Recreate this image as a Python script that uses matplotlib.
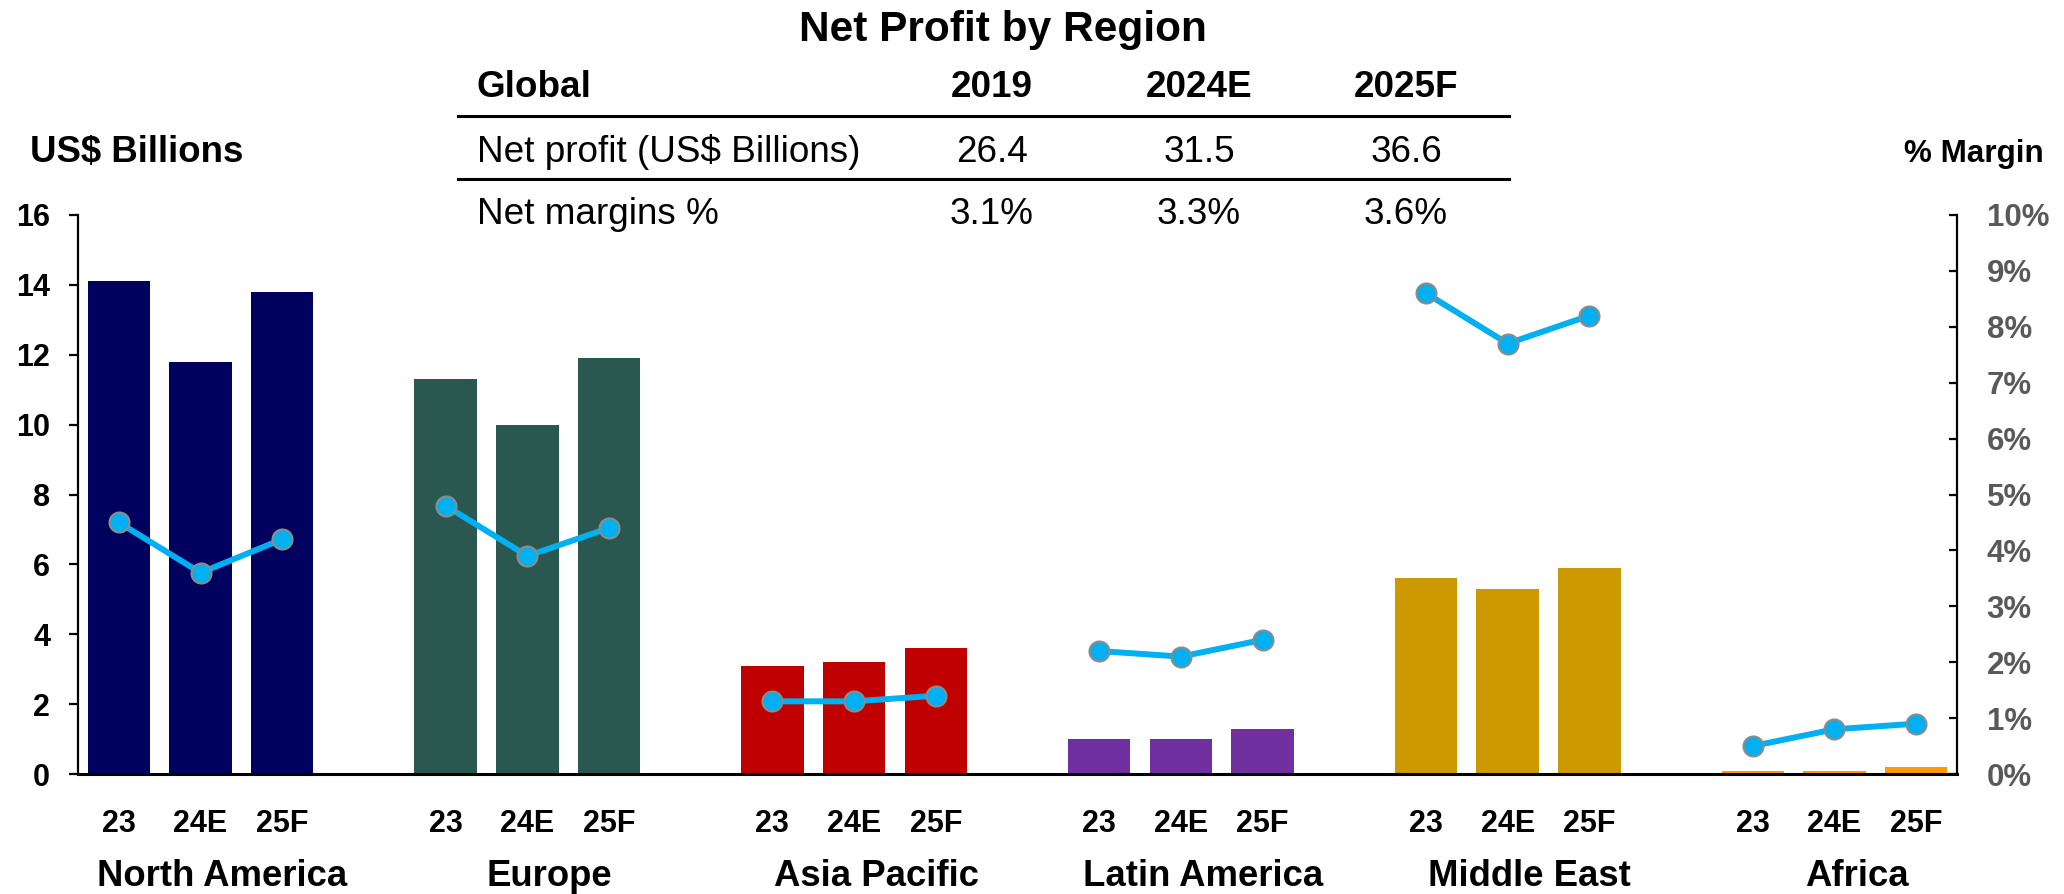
import matplotlib
matplotlib.use("Agg")
import matplotlib.pyplot as plt
from matplotlib.lines import Line2D
from matplotlib.transforms import blended_transform_factory
import numpy as np

plt.rcParams['font.family'] = ['Liberation Sans', 'DejaVu Sans']

# ---------------- data ----------------
regions = ["North America", "Europe", "Asia Pacific", "Latin America", "Middle East", "Africa"]
periods = ["23", "24E", "25F"]
net_profit = [
    [14.1, 11.8, 13.8],
    [11.3, 10.0, 11.9],
    [3.1, 3.2, 3.6],
    [1.0, 1.0, 1.3],
    [5.6, 5.3, 5.9],
    [0.1, 0.1, 0.2],
]
net_margin = [
    [4.5, 3.6, 4.2],
    [4.8, 3.9, 4.4],
    [1.3, 1.3, 1.4],
    [2.2, 2.1, 2.4],
    [8.6, 7.7, 8.2],
    [0.5, 0.8, 0.9],
]
region_colors = ["#00005E", "#2A5850", "#C00000", "#7030A0", "#CC9900", "#FF9900"]

table_title = "Net Profit by Region"
table_cols = ["Global", "2019", "2024E", "2025F"]
table_row_labels = ["Net profit (US$ Billions)", "Net margins %"]
table_profit = ["26.4", "31.5", "36.6"]
table_margin = ["3.1%", "3.3%", "3.6%"]

left_ticks = [0, 2, 4, 6, 8, 10, 12, 14, 16]
right_ticks = [0, 1, 2, 3, 4, 5, 6, 7, 8, 9, 10]

# ---------------- figure ----------------
W, H = 2064, 894
fig = plt.figure(figsize=(W / 100, H / 100), dpi=100)

def fx(px):
    return px / W

def fy(py):
    return 1 - py / H

ax = fig.add_axes([fx(78), fy(774), fx(1957) - fx(78), fy(215) - fy(774)])
ax2 = ax.twinx()

slot = 4  # 3 bars + 1 gap per region
bar_w = 0.765
line_color = "#00B0F0"

for g, reg in enumerate(regions):
    xs = [g * slot + j for j in range(len(periods))]
    ax.bar(xs, net_profit[g], width=bar_w, color=region_colors[g], zorder=2)
    ax2.plot(xs, net_margin[g], color=line_color, lw=4.3, marker="o", ms=14.4,
             markerfacecolor=line_color, markeredgecolor="#8C8C8C", markeredgewidth=1.5,
             zorder=5, solid_capstyle="round")

ax.set_xlim(-0.5, (len(regions) - 1) * slot + 2.5)
ax.set_ylim(0, 16)
ax2.set_ylim(0, 10)

ax.set_yticks(left_ticks)
ax.set_yticklabels([str(t) for t in left_ticks])
ax2.set_yticks(right_ticks)
ax2.set_yticklabels([f"{t}%" for t in right_ticks])

for a in (ax, ax2):
    a.spines['top'].set_visible(False)
    a.set_xticks([])
    for s in a.spines.values():
        s.set_linewidth(1.6)
        s.set_color("black")

ax2.spines['left'].set_visible(False)
ax.spines['right'].set_visible(False)
ax2.spines['bottom'].set_visible(False)
ax.spines['bottom'].set_linewidth(2.2)

ax.tick_params(axis='y', direction='out', length=6.5, width=1.6, pad=13.5,
               labelsize=22, labelcolor="black")
ax2.tick_params(axis='y', direction='in', length=6, width=1.6, pad=21.3,
                labelsize=22.5, labelcolor="#595959")
for lab in ax.get_yticklabels():
    lab.set_fontweight("bold")
for lab in ax2.get_yticklabels():
    lab.set_fontweight("bold")

# category labels
trans = blended_transform_factory(ax.transData, fig.transFigure)
for g, reg in enumerate(regions):
    for j, p in enumerate(periods):
        ax.text(g * slot + j, fy(832.5), p, transform=trans, ha="center", va="baseline",
                fontsize=22, fontweight="bold", color="black")
    ax.text(g * slot + 1.27, fy(886), reg, transform=trans, ha="center", va="baseline",
            fontsize=26.3, fontweight="bold", color="black")

# axis titles
fig.text(fx(29.6), fy(162), "US$ Billions", ha="left", va="baseline", fontsize=26.4, fontweight="bold")
fig.text(fx(2044), fy(161.7), "% Margin", ha="right", va="baseline", fontsize=22.6, fontweight="bold")

# title + table
fig.text(fx(1003), fy(41.5), table_title, ha="center", va="baseline", fontsize=30.5, fontweight="bold")
col_x = [477, 992, 1199, 1406]
row_y = [97.3, 161.7, 224]
tfs = 26.6
fig.text(fx(col_x[0]), fy(row_y[0]), table_cols[0], ha="left", va="baseline", fontsize=tfs, fontweight="bold")
for c in range(1, 4):
    fig.text(fx(col_x[c]), fy(row_y[0]), table_cols[c], ha="center", va="baseline", fontsize=tfs, fontweight="bold")
fig.text(fx(col_x[0]), fy(row_y[1]), table_row_labels[0], ha="left", va="baseline", fontsize=tfs)
fig.text(fx(col_x[0]), fy(row_y[2]), table_row_labels[1], ha="left", va="baseline", fontsize=tfs)
for c in range(3):
    fig.text(fx(col_x[c + 1]), fy(row_y[1]), table_profit[c], ha="center", va="baseline", fontsize=tfs)
    fig.text(fx(col_x[c + 1]), fy(row_y[2]), table_margin[c], ha="center", va="baseline", fontsize=tfs)
for ly in (115.7, 179.3):
    fig.add_artist(Line2D([fx(457.5), fx(1509)], [fy(ly), fy(ly)], color="black", lw=2.2))

fig.savefig("out.png", dpi=100)
